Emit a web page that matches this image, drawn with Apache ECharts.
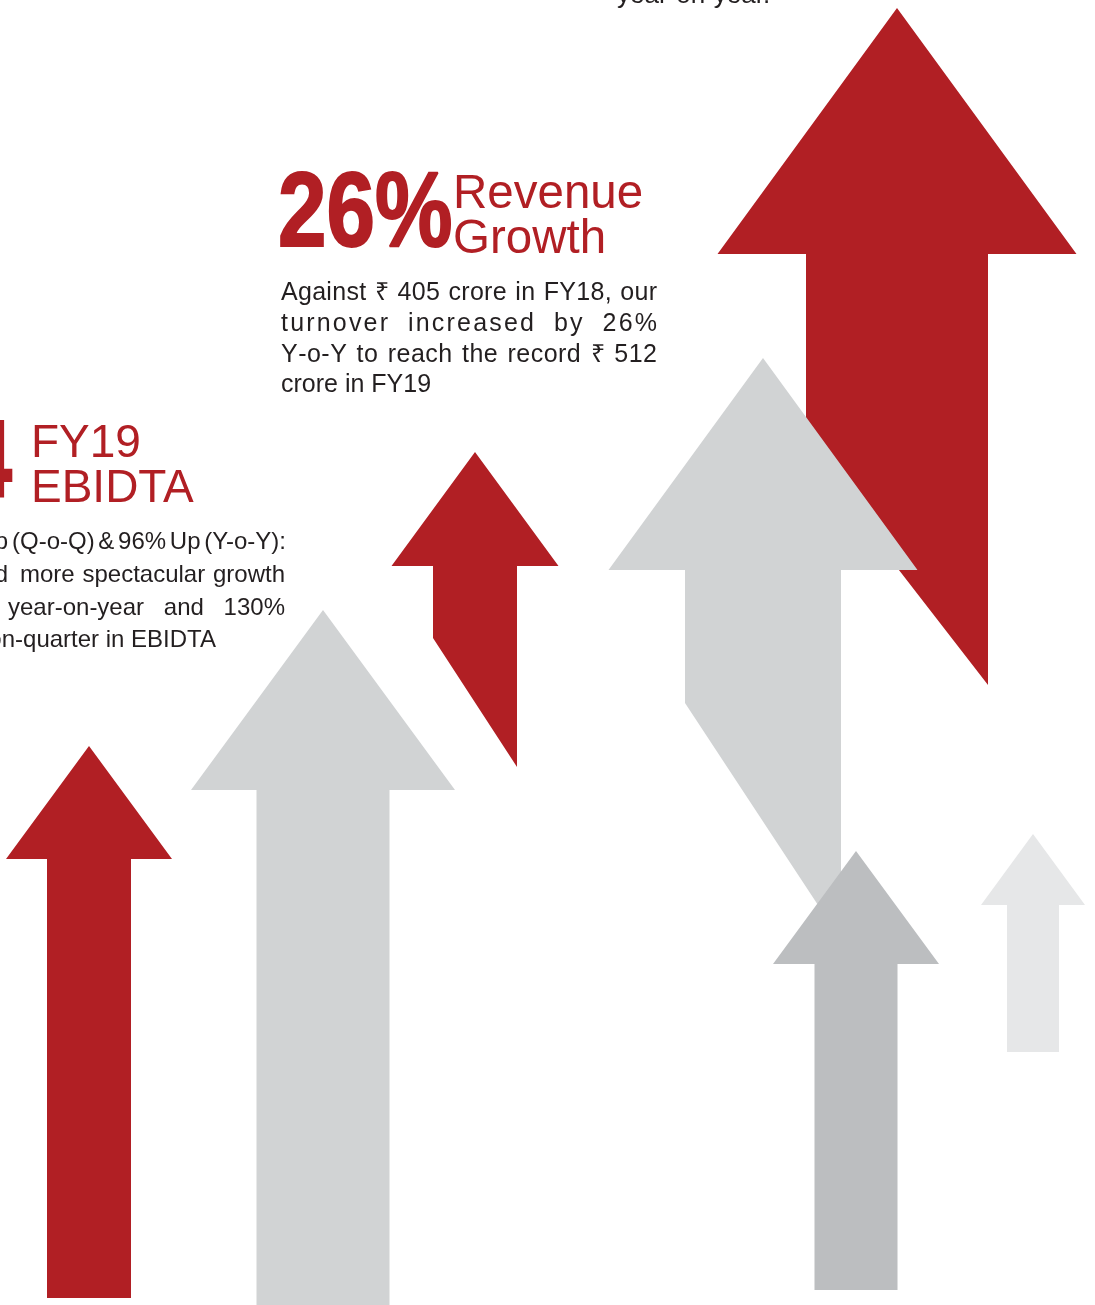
<!DOCTYPE html>
<html>
<head>
<meta charset="utf-8">
<script src="https://cdn.jsdelivr.net/npm/echarts@6/dist/echarts.min.js"></script>
<style>
    html, body { margin: 0; padding: 0; background: #ffffff; }
    #chart { width: 1095px; height: 1305px; }
</style>
</head>
<body>
<div id="chart"></div>
<script>
"use strict";

// arrows, listed back to front; x = centre, heights measured up from the bottom edge
var arrowX = [89, 323, 475, 897, 763, 856, 1033];
var arrowTip = [559, 695, 853, 1297, 947, 454, 471];
var arrowBaseLeft = [7, 0, 667, 855, 602, 15, 253];
var arrowBaseRight = [7, 0, 538, 620, 365, 15, 253];

var RED = "#B11F24";
var GREY = "#D1D3D4";
var DARK_GREY = "#BCBEC0";
var LIGHT_GREY = "#E6E7E8";
var INK = "#231F20";

// look of each arrow (axis units)
var arrowLook = [
    {color: RED, shaft: 84, head: 166, headLen: 113},
    {color: GREY, shaft: 133, head: 264, headLen: 180},
    {color: RED, shaft: 84, head: 167, headLen: 114},
    {color: RED, shaft: 182, head: 359, headLen: 246},
    {color: GREY, shaft: 156, head: 309, headLen: 212},
    {color: DARK_GREY, shaft: 83, head: 166, headLen: 113},
    {color: LIGHT_GREY, shaft: 52, head: 104, headLen: 71}
];

var SANS = '"Liberation Sans", Arial, Helvetica, sans-serif';
var SPACE_WEIGHT = 4;

var measureCtx = document.createElement("canvas").getContext("2d");

function fontOf(size, weight) {
    return (weight || "normal") + " " + size + "px " + SANS;
}

// text placed by its alphabetic baseline
function label(str, x, baseline, size, opts) {
    opts = opts || {};
    var style = {
        text: str,
        x: 0,
        y: 0,
        font: fontOf(size, opts.weight),
        fill: opts.color || INK,
        align: opts.align || "left",
        verticalAlign: "middle"
    };
    if (opts.stroke) {
        style.stroke = opts.color;
        style.lineWidth = opts.stroke;
    }
    return {
        type: "text",
        silent: true,
        x: x,
        y: baseline - size * 0.35 + 4,
        scaleX: opts.scaleX || 1,
        style: style
    };
}

// justified line: extra room goes between letters, more of it at spaces
function justify(line, left, right, baseline, size) {
    measureCtx.font = fontOf(size);
    var chars = Array.from(line);
    var widths = chars.map(function (c) {
        return measureCtx.measureText(c).width;
    });
    var natural = widths.reduce(function (a, b) { return a + b; }, 0);
    var weight = 0;
    chars.forEach(function (c, i) {
        if (i > 0) weight += 1;
        if (c === " ") weight += SPACE_WEIGHT;
    });
    var unit = (right - left - natural) / weight;
    var x = left;
    var out = [];
    chars.forEach(function (c, i) {
        if (i > 0) x += unit;
        if (c === " ") {
            x += widths[i] + SPACE_WEIGHT * unit;
            return;
        }
        out.push(label(c, x, baseline, size));
        x += widths[i];
    });
    return out;
}

// justified by word gaps only
function justifyWords(words, left, right, baseline, size) {
    measureCtx.font = fontOf(size);
    var widths = words.map(function (w) {
        return measureCtx.measureText(w).width;
    });
    var total = widths.reduce(function (a, b) { return a + b; }, 0);
    var gap = words.length > 1 ? (right - left - total) / (words.length - 1) : 0;
    var x = left;
    var out = [];
    words.forEach(function (w, i) {
        out.push(label(w, x, baseline, size));
        x += widths[i] + gap;
    });
    return out;
}

function renderArrow(params, api) {
    var look = arrowLook[params.dataIndex];
    var x = api.value(0);
    var tip = api.value(1);
    var baseLeft = api.value(2);
    var baseRight = api.value(3);
    var neck = tip - look.headLen;
    var points = [
        [x, tip],
        [x + look.head / 2, neck],
        [x + look.shaft / 2, neck],
        [x + look.shaft / 2, baseRight],
        [x - look.shaft / 2, baseLeft],
        [x - look.shaft / 2, neck],
        [x - look.head / 2, neck]
    ].map(function (p) {
        return api.coord(p);
    });
    return {
        type: "polygon",
        shape: {points: points},
        style: {fill: look.color}
    };
}

var arrowData = arrowX.map(function (x, i) {
    return [x, arrowTip[i], arrowBaseLeft[i], arrowBaseRight[i]];
});

var texts = [];
// cut-off line at the very top
texts.push(label("year-on-year.", 617, 1, 26));

// revenue block
texts.push(label("26%", 278, 250, 105, {weight: "bold", color: RED, scaleX: 0.83, stroke: 2}));
texts.push(label("Revenue", 453, 208, 47.5, {color: RED}));
texts.push(label("Growth", 453, 253, 47.5, {color: RED}));
texts = texts.concat(justify("Against \u20B9 405 crore in FY18, our", 281, 657, 298, 25));
texts = texts.concat(justify("turnover increased by 26%", 281, 657, 329, 25));
texts = texts.concat(justify("Y-o-Y to reach the record \u20B9 512", 281, 657, 360, 25));
texts.push(label("crore in FY19", 281, 390, 25));

// EBIDTA block, cut by the left edge
texts.push(label("4", 12, 500, 109, {weight: "bold", color: RED, scaleX: 0.82, align: "right", stroke: 2}));
texts.push(label("FY19", 31, 456, 46, {color: RED}));
texts.push(label("EBIDTA", 31, 501, 46, {color: RED}));
texts.push(label("Up", 8, 547, 24, {align: "right"}));
texts = texts.concat(justifyWords(["(Q-o-Q)", "&", "96%", "Up", "(Y-o-Y):"], 12, 286, 547, 24));
texts.push(label("and", 8, 580, 24, {align: "right"}));
texts = texts.concat(justifyWords(["more", "spectacular", "growth"], 20, 285, 580, 24));
texts = texts.concat(justifyWords(["year-on-year", "and", "130%"], 8, 285, 613, 24));
texts.push(label("quarter-on-quarter in EBIDTA", 216, 645, 24, {align: "right"}));

var chart = echarts.init(document.getElementById("chart"), null, {renderer: "canvas"});
chart.setOption({
    animation: false,
    backgroundColor: "#ffffff",
    grid: {left: 0, right: 0, top: 0, bottom: 0},
    xAxis: {type: "value", min: 0, max: 1095, show: false},
    yAxis: {type: "value", min: 0, max: 1305, show: false},
    series: [{
        type: "custom",
        renderItem: renderArrow,
        data: arrowData,
        encode: {x: 0, y: 1},
        silent: true,
        z: 1
    }],
    graphic: {elements: texts}
});
</script>
</body>
</html>
